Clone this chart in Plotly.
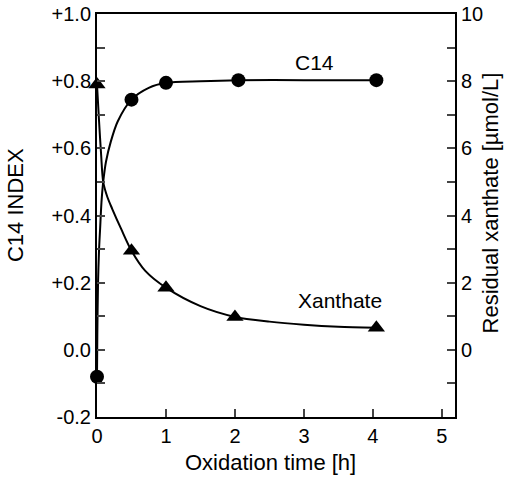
import plotly.graph_objects as go

# measured points
time_pts = [0, 0.5, 1.0, 2.05, 4.05]
c14_index = [-0.08, 0.745, 0.795, 0.803, 0.803]
xan_time = [0, 0.5, 1.0, 2.0, 4.05]
xanthate = [7.9, 2.95, 1.85, 0.98, 0.66]

# fitted curves
c14_curve_t = [0, 0.005, 0.015, 0.03, 0.045, 0.065, 0.09, 0.13, 0.2, 0.3, 0.5, 0.75, 1.0, 1.5, 2.05, 3.0, 4.05]
c14_curve_y = [-0.08, 0.05, 0.2, 0.3, 0.36, 0.44, 0.5, 0.56, 0.62, 0.68, 0.745, 0.78, 0.795, 0.80, 0.803, 0.803, 0.803]
xan_curve_t = [0, 0.03, 0.06, 0.09, 0.15, 0.22, 0.35, 0.5, 0.7, 1.0, 1.5, 2.0, 2.5, 3.0, 3.5, 4.05]
xan_curve_y = [7.9, 6.8, 5.8, 5.0, 4.55, 4.2, 3.6, 2.95, 2.35, 1.85, 1.3, 0.98, 0.84, 0.75, 0.69, 0.66]

left_ticks = [-0.2, 0.0, 0.2, 0.4, 0.6, 0.8, 1.0]
left_labels = ["-0.2", "0.0", "+0.2", "+0.4", "+0.6", "+0.8", "+1.0"]
right_ticks = [0, 2, 4, 6, 8, 10]
x_ticks = [0, 1, 2, 3, 4, 5]

FONT = "Liberation Sans, Arial, sans-serif"
TICK = 20
TITLE = 22
LABEL = 21

fig = go.Figure()
fig.add_trace(go.Scatter(x=c14_curve_t, y=c14_curve_y, mode="lines",
                         line=dict(color="black", width=2, shape="spline", smoothing=0.8),
                         showlegend=False, hoverinfo="skip", cliponaxis=False))
fig.add_trace(go.Scatter(x=time_pts, y=c14_index, mode="markers",
                         marker=dict(symbol="circle", size=14, color="black"),
                         showlegend=False, cliponaxis=False))
fig.add_trace(go.Scatter(x=xan_curve_t, y=xan_curve_y, mode="lines", yaxis="y2",
                         line=dict(color="black", width=2, shape="spline", smoothing=0.8),
                         showlegend=False, hoverinfo="skip", cliponaxis=False))
fig.add_trace(go.Scatter(x=xan_time, y=xanthate, mode="markers", yaxis="y2",
                         marker=dict(symbol="triangle-up", size=15, color="black"),
                         showlegend=False, cliponaxis=False))

fig.add_annotation(x=3.16, y=0.857, text="C14", showarrow=False,
                   xanchor="center", yanchor="middle",
                   font=dict(family=FONT, size=LABEL, color="black"))
fig.add_annotation(x=3.52, y=0.148, text="Xanthate", showarrow=False,
                   xanchor="center", yanchor="middle",
                   font=dict(family=FONT, size=LABEL, color="black"))

# axis titles
fig.add_annotation(xref="paper", yref="paper", x=0.484, y=-0.112, text="Oxidation time [h]",
                   xanchor="center", yanchor="middle",
                   showarrow=False, font=dict(family=FONT, size=TITLE, color="black"))
fig.add_annotation(xref="paper", yref="paper", x=-0.229, y=0.526, text="C14 INDEX",
                   xanchor="center", yanchor="middle",
                   textangle=-90, showarrow=False, font=dict(family=FONT, size=TITLE, color="black"))
fig.add_annotation(xref="paper", yref="paper", x=1.098, y=0.53, text="Residual xanthate [\u00b5mol/L]",
                   xanchor="center", yanchor="middle",
                   textangle=-90, showarrow=False, font=dict(family=FONT, size=TITLE, color="black"))

fig.update_layout(
    width=510, height=478,
    margin=dict(l=97, r=55, t=14, b=61),
    paper_bgcolor="white", plot_bgcolor="white",
    font=dict(family=FONT, size=TICK, color="black"),
    xaxis=dict(range=[0, 5.19], tickvals=x_ticks, ticks="inside", ticklen=8, tickwidth=1.5,
               showline=True, linewidth=2, linecolor="black", mirror=True,
               showgrid=False, zeroline=False, automargin=False,
               ticklabeloverflow="allow", tickfont=dict(size=TICK)),
    yaxis=dict(range=[-0.2, 1.0], tickvals=left_ticks, ticktext=left_labels,
               ticks="inside", ticklen=8, tickwidth=1.5,
               minor=dict(dtick=0.1, ticks="inside", ticklen=8, tickwidth=1.5, showgrid=False),
               showline=True, linewidth=2, linecolor="black",
               showgrid=False, zeroline=False, automargin=False,
               ticklabeloverflow="allow", tickfont=dict(size=TICK)),
    yaxis2=dict(range=[-2, 10], tickvals=right_ticks, overlaying="y", side="right",
                ticks="inside", ticklen=8, tickwidth=1.5,
                minor=dict(dtick=1, ticks="inside", ticklen=8, tickwidth=1.5, showgrid=False),
                showline=True, linewidth=2, linecolor="black",
                showgrid=False, zeroline=False, automargin=False,
                ticklabeloverflow="allow", tickfont=dict(size=TICK)),
)

# remove the default 8px page margin so the figure sits at the window's corner
fig.write_html("out.html", config={"displayModeBar": False},
               post_script="document.body.style.margin='0';")
